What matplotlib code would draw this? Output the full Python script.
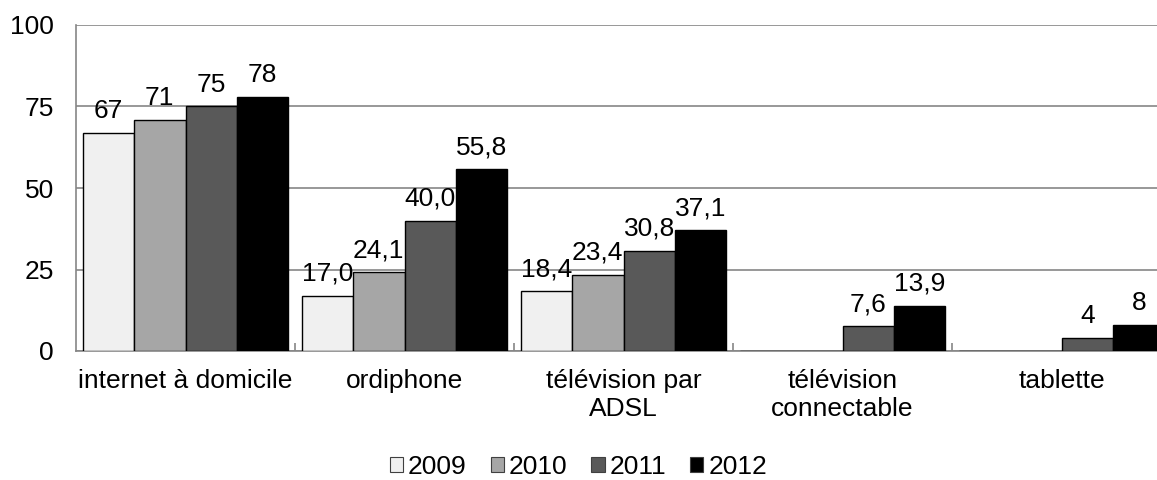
import numpy as np
import matplotlib.pyplot as plt
from matplotlib.patches import Patch

plt.rcParams['font.family'] = ['Liberation Sans', 'DejaVu Sans']

categories = ["internet à domicile", "ordiphone", "télévision par\nADSL", "télévision\nconnectable", "tablette"]
years = ["2009", "2010", "2011", "2012"]
values = {
    "2009": [67, 17.0, 18.4, np.nan, np.nan],
    "2010": [71, 24.1, 23.4, np.nan, np.nan],
    "2011": [75, 40.0, 30.8, 7.6, 4],
    "2012": [78, 55.8, 37.1, 13.9, 8],
}
labels = {
    "2009": ["67", "17,0", "18,4", "", ""],
    "2010": ["71", "24,1", "23,4", "", ""],
    "2011": ["75", "40,0", "30,8", "7,6", "4"],
    "2012": ["78", "55,8", "37,1", "13,9", "8"],
}
colors = ["#f0f0f0", "#a6a6a6", "#595959", "#000000"]

fs = 19
fig = plt.figure(figsize=(11.57, 4.80), dpi=100)
ax = fig.add_axes([76/1157, 129/480, 1095/1157, 326/480])

x = np.arange(len(categories))
w = 0.235
for i, yr in enumerate(years):
    pos = x + (i - 1.5) * w
    vals = np.array(values[yr], dtype=float)
    ax.bar(pos, np.nan_to_num(vals), w, color=colors[i], edgecolor="black", linewidth=1, zorder=3)
    for p, v, lab in zip(pos, vals, labels[yr]):
        if not np.isnan(v):
            ax.annotate(lab, (p, v), xytext=(0, 7), textcoords="offset points",
                        ha="center", va="bottom", fontsize=fs, zorder=4)

ax.set_xlim(-0.5, len(categories) - 0.5)
ax.set_ylim(0, 100)
ax.set_yticks([0, 25, 50, 75, 100])
ax.yaxis.grid(True, color="#868686", linewidth=1.2, zorder=0)
ax.tick_params(axis="y", length=0, pad=16, labelsize=fs)

ax.set_xticks(x)
ax.set_xticklabels(categories, fontsize=fs)
ax.tick_params(axis="x", which="major", length=0, pad=13)
ax.set_xticks(np.arange(0.5, len(categories) - 0.5, 1), minor=True)
ax.tick_params(axis="x", which="minor", direction="in", length=6, color="#868686", width=1.2)

for s in ["top", "right"]:
    ax.spines[s].set_visible(False)
for s in ["left", "bottom"]:
    ax.spines[s].set_color("#868686")
    ax.spines[s].set_linewidth(1.2)

handles = [Patch(facecolor=c, edgecolor="#404040", linewidth=0.8) for c in colors]
fig.legend(handles, years, loc="center", bbox_to_anchor=(0.5, 0.028), ncol=4, frameon=False,
           fontsize=fs, handlelength=0.5, handleheight=0.5, handletextpad=0.2, columnspacing=0.9)

fig.savefig("out.png", dpi=100)
